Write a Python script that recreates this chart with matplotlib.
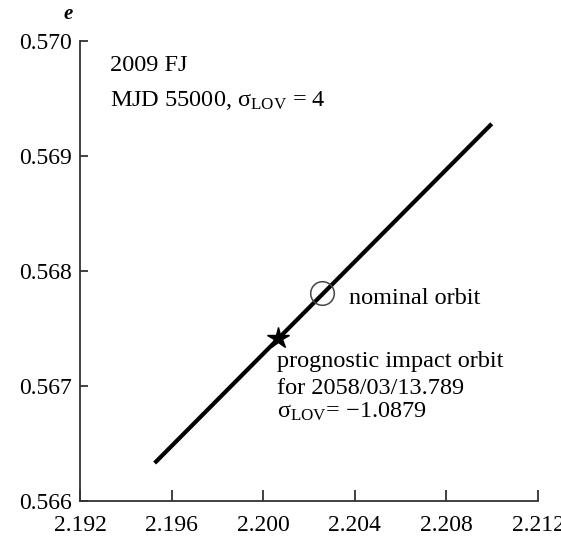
import matplotlib
matplotlib.use("Agg")
import matplotlib.pyplot as plt

# Data
lov_a = [2.19526, 2.20998]          # semimajor axis along LOV segment
lov_e = [0.56633, 0.56928]          # eccentricity along LOV segment
nominal_a = [2.20258]
nominal_e = [0.56781]
impact_a = [2.20063]
impact_e = [0.567415]
xticks = [2.192, 2.196, 2.200, 2.204, 2.208, 2.212]
yticks = [0.566, 0.567, 0.568, 0.569, 0.570]
xtick_labels = ["2.192", "2.196", "2.200", "2.204", "2.208", "2.212"]
ytick_labels = ["0.566", "0.567", "0.568", "0.569", "0.570"]

plt.rcParams["font.family"] = ["Liberation Serif", "DejaVu Serif"]
plt.rcParams["mathtext.fontset"] = "custom"
plt.rcParams["mathtext.rm"] = "Liberation Serif"
plt.rcParams["mathtext.it"] = "Liberation Serif:italic"
plt.rcParams["mathtext.bf"] = "Liberation Serif:bold"

fig = plt.figure(figsize=(5.61, 5.36), dpi=100)
ax = fig.add_axes([0.1426, 0.0653, 0.8164, 0.8582])

ax.plot(lov_a, lov_e, color="black", lw=3.0, solid_capstyle="butt", zorder=2)
ax.plot(nominal_a, nominal_e, marker="o", ms=17, mfc="none", mec="#444444",
        mew=1.1, linestyle="none", zorder=3)
ax.plot(impact_a, impact_e, marker="*", ms=16, color="black",
        linestyle="none", zorder=3)

ax.set_xlim(xticks[0], xticks[-1])
ax.set_ylim(yticks[0], yticks[-1])
ax.set_xticks(xticks)
ax.set_xticklabels(xtick_labels)
ax.set_yticks(yticks)
ax.set_yticklabels(ytick_labels)

for s in ["top", "right"]:
    ax.spines[s].set_visible(False)
for s in ["left", "bottom"]:
    ax.spines[s].set_color("#333333")
    ax.spines[s].set_linewidth(1.3)

ax.tick_params(axis="x", direction="in", length=8, width=1.3, color="#333333",
               labelsize=17, pad=10)
ax.tick_params(axis="y", direction="in", length=6, width=1.3, color="#333333",
               labelsize=17, pad=6)

ax.text(-0.026, 1.059, "e", transform=ax.transAxes, fontsize=15,
        fontstyle="italic", fontweight="bold", ha="center", va="center")

fs = 17.5
ax.text(2.19331, 0.569791, "2009 FJ", fontsize=fs, va="center", ha="left")
ax.text(2.19331, 0.569483, r"MJD 55000, σ$_{\mathrm{LOV}}$ = 4", fontsize=fs,
        va="center", ha="left")
ax.text(2.20375, 0.567757, "nominal orbit", fontsize=fs, va="center", ha="left")
ax.text(2.20060, 0.567209, "prognostic impact orbit", fontsize=fs,
        va="center", ha="left")
ax.text(2.20060, 0.566974, "for 2058/03/13.789", fontsize=fs,
        va="center", ha="left")
ax.text(2.20060, 0.566774, r"σ$_{\mathrm{LOV}}$= −1.0879", fontsize=fs,
        va="center", ha="left")

fig.savefig("out.png", dpi=100)
